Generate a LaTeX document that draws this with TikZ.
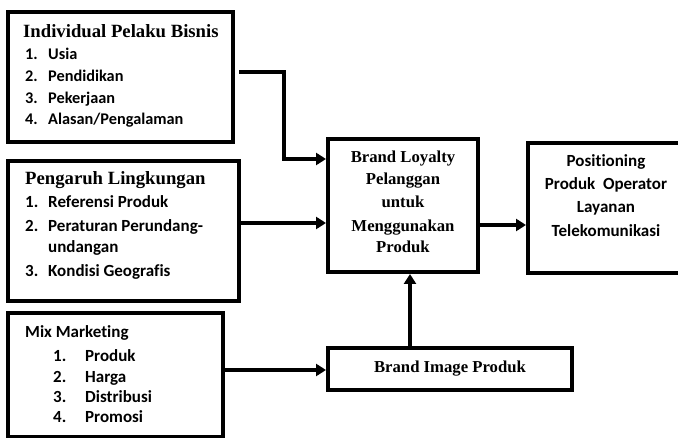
\documentclass[tikz,border=0pt]{standalone}
\usepackage{fontspec}
\setmainfont{Liberation Serif}
\newfontfamily\calib[Ligatures=CommonOff]{Carlito}
\usetikzlibrary{arrows.meta}
\begin{document}
\begin{tikzpicture}[x=1pt,y=-1pt,
  box/.style={draw,line width=4pt,outer sep=0pt,inner sep=0pt,anchor=north west},
  conn/.style={line width=4pt,shorten >=2pt,-{Triangle[length=10pt,width=12pt]}},
  ttl/.style={font=\fontsize{18.7}{22}\selectfont\bfseries,inner sep=0pt,anchor=base west},
  itm/.style={font=\calib\fontsize{16.3}{20}\selectfont\bfseries,inner sep=0pt,anchor=base west},
  itmb/.style={itm,font=\calib\fontsize{17}{20}\selectfont\bfseries},
  ctr/.style={font=\fontsize{16.7}{20}\selectfont\bfseries,inner sep=0pt,anchor=base},
  rtx/.style={font=\calib\fontsize{17}{20}\selectfont\bfseries,inner sep=0pt,anchor=base}]
\useasboundingbox (0,0) rectangle (678,438);
\clip (0,0) rectangle (678,438);
% boxes
\node[box,minimum width=225pt,minimum height=130pt] (b1) at (8,12) {};
\node[box,minimum width=231pt,minimum height=140pt] (b2) at (8,161) {};
\node[box,minimum width=215pt,minimum height=124pt] (b3) at (8,313) {};
\node[box,minimum width=150pt,minimum height=133pt] (bl) at (328,139) {};
\node[box,minimum width=154pt,minimum height=130pt] (pos) at (528,143) {};
\node[box,minimum width=244pt,minimum height=42pt] (bi) at (328,348) {};
% box 1 text
\node[ttl] (t1) at (23,38) {Individual Pelaku Bisnis};
\node[itm] (t1a) at (25,60) {\makebox[23pt][l]{1.}Usia};
\node[itm] (t1b) at (25,82) {\makebox[23pt][l]{2.}Pendidikan};
\node[itm] (t1c) at (25,104) {\makebox[23pt][l]{3.}Pekerjaan};
\node[itm] (t1d) at (25,125) {\makebox[23pt][l]{4.}Alasan/Pengalaman};
% box 2 text
\node[ttl] (t2) at (25,185) {Pengaruh Lingkungan};
\node[itmb] (t2a) at (25,208) {\makebox[23pt][l]{1.}Referensi Produk};
\node[itmb] (t2b) at (25,232) {\makebox[23pt][l]{2.}Peraturan Perundang-};
\node[itmb] (t2c) at (48,253) {undangan};
\node[itmb] (t2d) at (25,277) {\makebox[23pt][l]{3.}Kondisi Geografis};
% box 3 text
\node[itmb] (t3) at (25,338) {Mix Marketing};
\node[itmb] (t3a) at (53,362) {\makebox[32pt][l]{1.}Produk};
\node[itmb] (t3b) at (53,383) {\makebox[32pt][l]{2.}Harga};
\node[itmb] (t3c) at (53,403) {\makebox[32pt][l]{3.}Distribusi};
\node[itmb] (t3d) at (53,423) {\makebox[32pt][l]{4.}Promosi};
% centre text
\node[ctr] (c1) at (403,163) {Brand Loyalty};
\node[ctr] (c2) at (403,185) {Pelanggan};
\node[ctr] (c3) at (403,208) {untuk};
\node[ctr] (c4) at (403,232) {Menggunakan};
\node[ctr] (c5) at (403,253) {Produk};
% brand image text
\node[ctr] (bit) at (450,373) {Brand Image Produk};
% positioning text
\node[rtx] (p1) at (606,167) {Positioning};
\node[rtx] (p2) at (606,190) {Produk\ \ Operator};
\node[rtx] (p3) at (606,213) {Layanan};
\node[rtx] (p4) at (606,237) {Telekomunikasi};
% connectors
\coordinate (s1) at (239,72);
\coordinate (k1) at (284,72);
\coordinate (k2) at (284,159);
\draw[conn] (s1) -- (k1) -- (k2) -- (bl.west |- k2);
\draw[conn] (b2.east |- 0,223) -- (bl.west |- 0,223);
\draw[conn] (b3.east |- 0,370) -- (bi.west |- 0,370);
\draw[conn] (bi.north -| 410,0) -- (bl.south -| 410,0);
\draw[conn] (bl.east |- 0,225) -- (pos.west |- 0,225);
\end{tikzpicture}
\end{document}
